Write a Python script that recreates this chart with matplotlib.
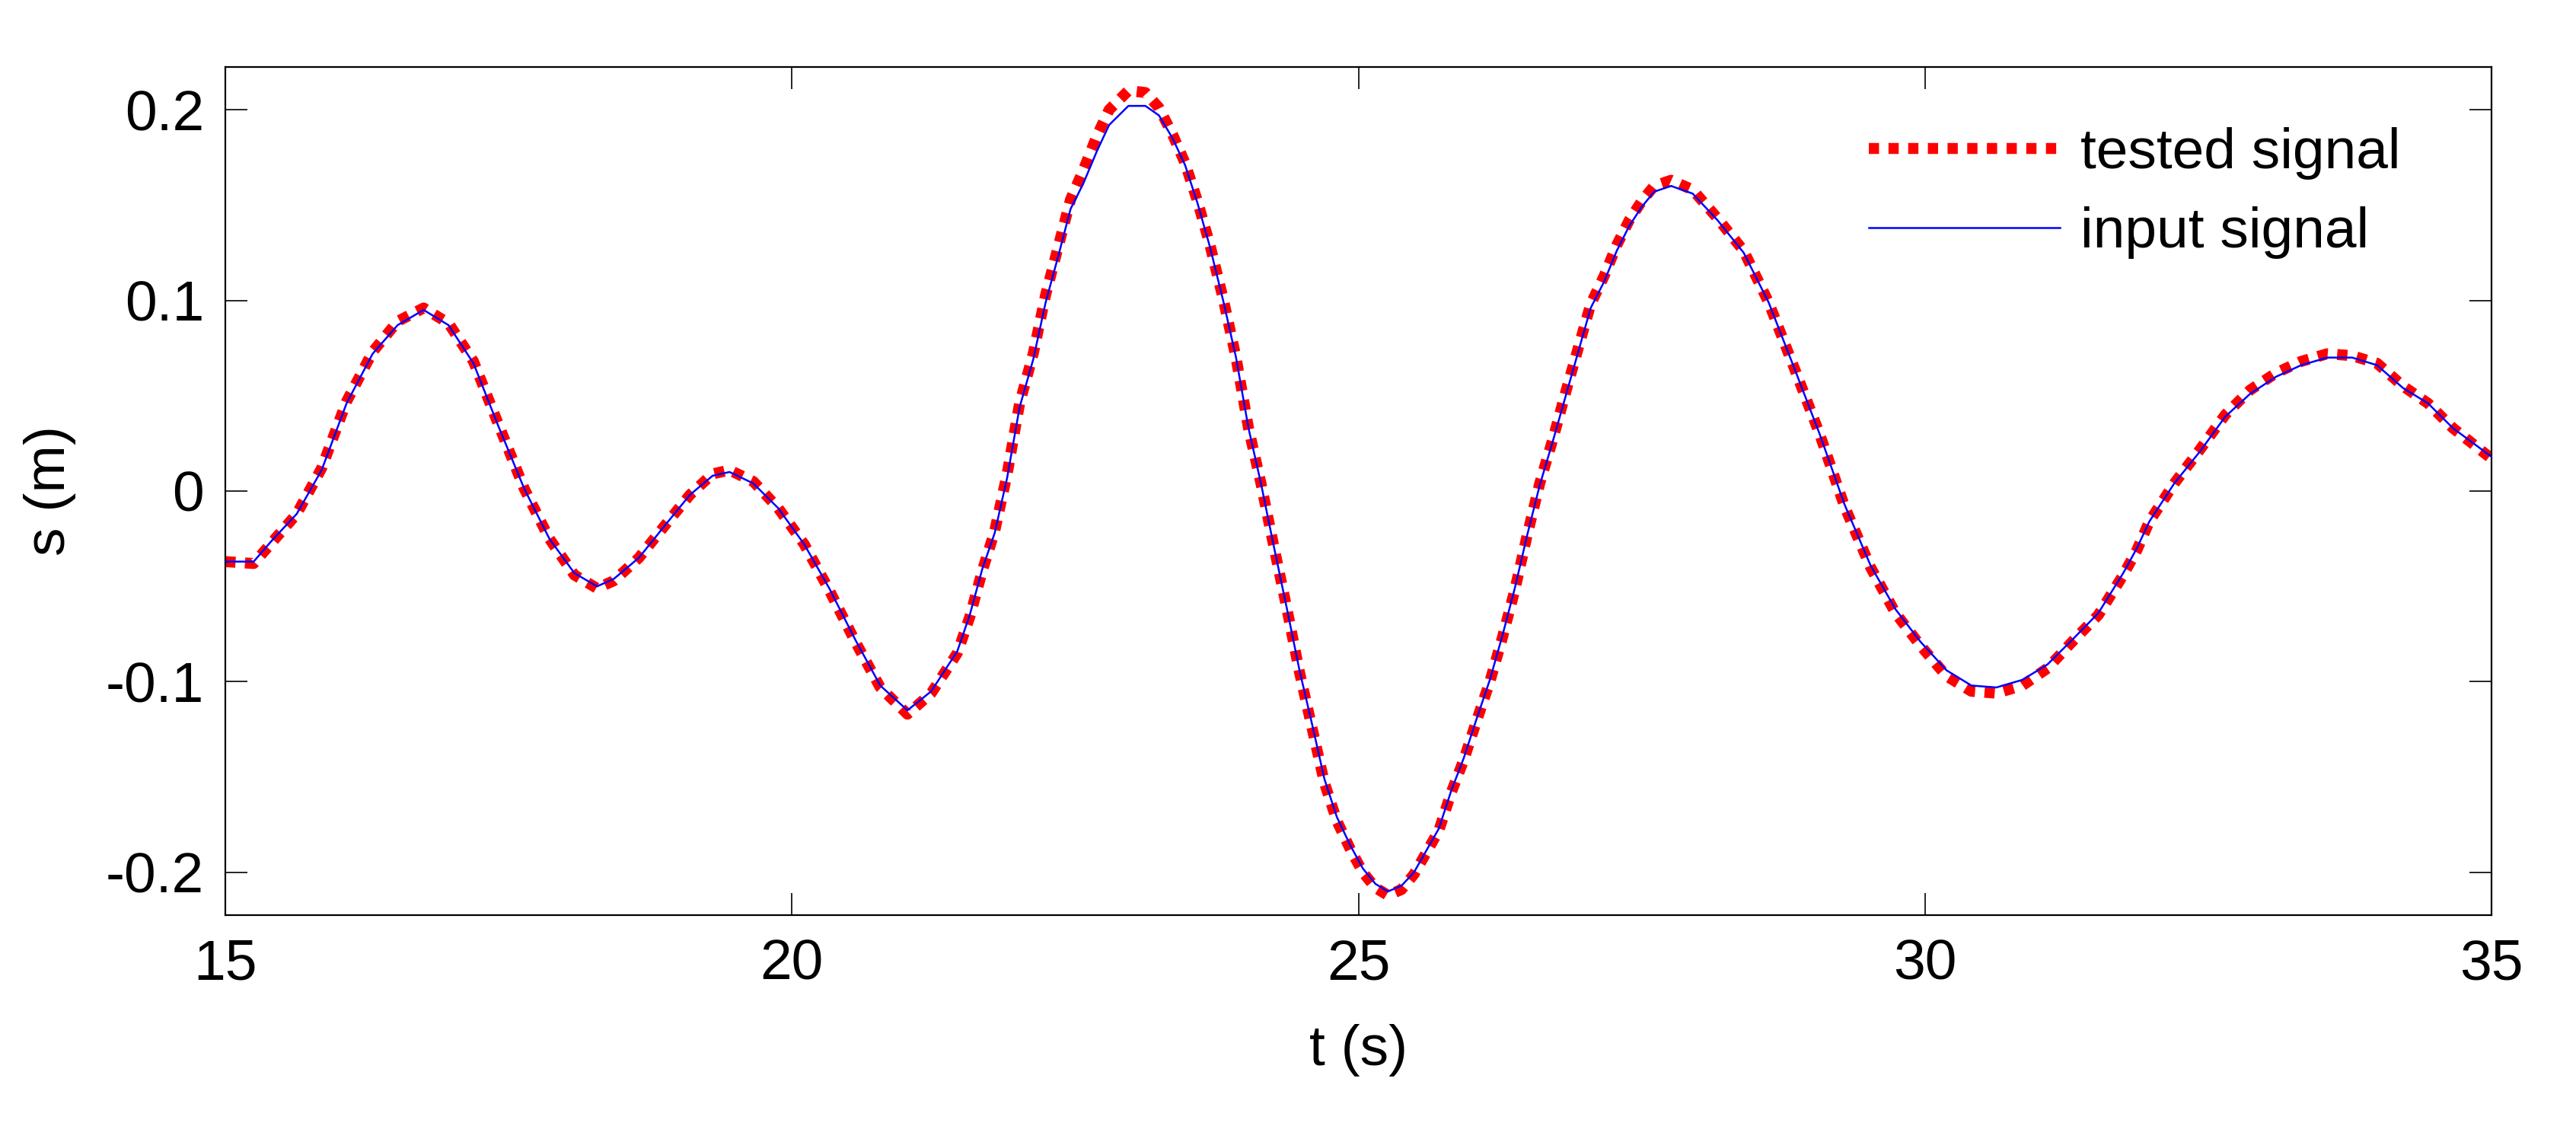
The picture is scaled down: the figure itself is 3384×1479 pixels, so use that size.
import matplotlib
matplotlib.use("Agg")
import matplotlib.pyplot as plt

plt.rcParams['font.family'] = ['Liberation Sans', 'DejaVu Sans']
plt.rcParams['axes.unicode_minus'] = False

# ---- data ----
t_input = [15.00, 15.25, 15.41, 15.63, 15.85, 16.07, 16.30, 16.52, 16.75, 16.97,
           17.19, 17.41, 17.64, 17.86, 18.08, 18.28, 18.43, 18.65, 18.88, 19.10,
           19.30, 19.45, 19.66, 19.88, 20.11, 20.33, 20.56, 20.78, 21.02, 21.23,
           21.46, 21.57, 21.68, 21.79, 21.90, 22.01, 22.13, 22.24, 22.35, 22.46,
           22.57, 22.69, 22.80, 22.97, 23.12, 23.24, 23.36, 23.47, 23.58, 23.69,
           23.81, 23.92, 24.03, 24.14, 24.25, 24.37, 24.48, 24.59, 24.70, 24.81,
           24.93, 25.04, 25.15, 25.26, 25.38, 25.49, 25.71, 25.82, 25.93, 26.04,
           26.16, 26.27, 26.38, 26.49, 26.60, 26.72, 26.83, 26.94, 27.05, 27.17,
           27.28, 27.39, 27.50, 27.61, 27.76, 27.95, 28.17, 28.40, 28.62, 28.85,
           29.07, 29.29, 29.52, 29.74, 29.96, 30.19, 30.41, 30.63, 30.86, 31.08,
           31.30, 31.53, 31.75, 31.87, 31.98, 32.20, 32.43, 32.65, 32.87, 33.10,
           33.32, 33.55, 33.77, 33.99, 34.22, 34.44, 34.66, 35.00]
s_input = [-0.037, -0.037, -0.026, -0.012, 0.011, 0.046, 0.072, 0.087, 0.095, 0.087,
           0.067, 0.034, 0.001, -0.025, -0.043, -0.050, -0.046, -0.035, -0.018, -0.002,
           0.008, 0.010, 0.004, -0.009, -0.028, -0.051, -0.078, -0.102, -0.115, -0.105,
           -0.084, -0.065, -0.041, -0.022, 0.007, 0.044, 0.069, 0.099, 0.123, 0.148,
           0.161, 0.178, 0.192, 0.202, 0.202, 0.197, 0.185, 0.171, 0.151, 0.128,
           0.099, 0.070, 0.033, 0.004, -0.028, -0.062, -0.094, -0.122, -0.151, -0.171,
           -0.186, -0.198, -0.206, -0.210, -0.207, -0.200, -0.177, -0.157, -0.140, -0.120,
           -0.099, -0.076, -0.051, -0.023, 0.003, 0.027, 0.050, 0.073, 0.096, 0.110,
           0.126, 0.139, 0.149, 0.157, 0.160, 0.156, 0.142, 0.125, 0.099, 0.064,
           0.030, -0.007, -0.039, -0.062, -0.079, -0.094, -0.102, -0.103, -0.099, -0.091,
           -0.078, -0.064, -0.043, -0.030, -0.016, 0.004, 0.021, 0.039, 0.051, 0.060,
           0.066, 0.070, 0.070, 0.066, 0.054, 0.046, 0.033, 0.018]

t_tested = [15.00, 15.25, 15.41, 15.63, 15.85, 16.07, 16.30, 16.52, 16.75, 16.97,
            17.19, 17.41, 17.64, 17.86, 18.08, 18.28, 18.43, 18.65, 18.88, 19.10,
            19.30, 19.45, 19.66, 19.88, 20.11, 20.33, 20.56, 20.78, 21.02, 21.23,
            21.46, 21.57, 21.68, 21.79, 21.90, 22.01, 22.13, 22.24, 22.35, 22.46,
            22.57, 22.69, 22.80, 22.97, 23.12, 23.24, 23.36, 23.47, 23.58, 23.69,
            23.81, 23.92, 24.03, 24.14, 24.25, 24.37, 24.48, 24.59, 24.70, 24.81,
            24.93, 25.04, 25.15, 25.26, 25.38, 25.49, 25.71, 25.82, 25.93, 26.04,
            26.16, 26.27, 26.38, 26.49, 26.60, 26.72, 26.83, 26.94, 27.05, 27.17,
            27.28, 27.39, 27.50, 27.61, 27.76, 27.95, 28.17, 28.40, 28.62, 28.85,
            29.07, 29.29, 29.52, 29.74, 29.96, 30.19, 30.41, 30.63, 30.86, 31.08,
            31.30, 31.53, 31.75, 31.87, 31.98, 32.20, 32.43, 32.65, 32.87, 33.10,
            33.32, 33.55, 33.77, 33.99, 34.22, 34.44, 34.66, 35.00]
s_tested = [-0.037, -0.038, -0.027, -0.012, 0.012, 0.047, 0.073, 0.089, 0.096, 0.088,
            0.068, 0.035, 0.001, -0.025, -0.044, -0.051, -0.047, -0.035, -0.018, -0.002,
            0.009, 0.011, 0.005, -0.009, -0.028, -0.052, -0.079, -0.103, -0.117, -0.106,
            -0.085, -0.066, -0.042, -0.021, 0.009, 0.046, 0.072, 0.103, 0.128, 0.153,
            0.168, 0.186, 0.200, 0.210, 0.209, 0.201, 0.187, 0.172, 0.152, 0.129,
            0.100, 0.070, 0.033, 0.004, -0.028, -0.062, -0.095, -0.124, -0.153, -0.173,
            -0.188, -0.200, -0.208, -0.212, -0.209, -0.201, -0.178, -0.158, -0.141, -0.121,
            -0.100, -0.077, -0.052, -0.023, 0.004, 0.028, 0.052, 0.075, 0.098, 0.113,
            0.129, 0.142, 0.152, 0.160, 0.163, 0.158, 0.143, 0.126, 0.099, 0.064,
            0.030, -0.008, -0.040, -0.064, -0.081, -0.097, -0.105, -0.106, -0.102, -0.093,
            -0.079, -0.065, -0.044, -0.031, -0.016, 0.004, 0.022, 0.040, 0.053, 0.062,
            0.068, 0.072, 0.071, 0.067, 0.055, 0.046, 0.033, 0.017]

x_ticks = [15, 20, 25, 30, 35]
x_ticklabels = ['15', '20', '25', '30', '35']
y_ticks = [-0.2, -0.1, 0.0, 0.1, 0.2]
y_ticklabels = ['-0.2', '-0.1', '0', '0.1', '0.2']
series_labels = ['tested signal', 'input signal']
x_label = 't (s)'
y_label = 's (m)'

# ---- figure ----
DPI = 200
fig = plt.figure(figsize=(3384 / DPI, 1479 / DPI), dpi=DPI)
ax = fig.add_axes([296 / 3384, 1 - 1202 / 1479, (3273 - 296) / 3384, (1202 - 88) / 1479])

fs = 27
red, = ax.plot(t_tested, s_tested, color='#ff0000', lw=5.2,
               linestyle=(0, (0.93, 0.86)), dash_capstyle='butt',
               label=series_labels[0], zorder=2)
blue, = ax.plot(t_input, s_input, color='#0000ff', lw=0.9,
                label=series_labels[1], zorder=3)

ax.set_xlim(15, 35)
ax.set_ylim(-0.2224, 0.2224)
ax.set_xticks(x_ticks)
ax.set_xticklabels(x_ticklabels)
ax.set_yticks(y_ticks)
ax.set_yticklabels(y_ticklabels)
ax.tick_params(direction='in', length=10.5, width=0.6, labelsize=fs,
               top=True, right=True, pad=10)
ax.tick_params(axis='x', pad=11)
for sp in ax.spines.values():
    sp.set_linewidth(0.8)

ax.set_xlabel(x_label, fontsize=fs, labelpad=15.5)
ax.set_ylabel(y_label, fontsize=fs, labelpad=14)

leg = ax.legend(handles=[red, blue], loc='upper left',
                bbox_to_anchor=(2455 / 3384, 1 - 167 / 1479),
                bbox_transform=fig.transFigure, frameon=False,
                fontsize=fs, handlelength=3.35, handletextpad=0.35,
                labelspacing=0.47, borderpad=0, borderaxespad=0)

fig.savefig('out.png', dpi=DPI, facecolor='white')
